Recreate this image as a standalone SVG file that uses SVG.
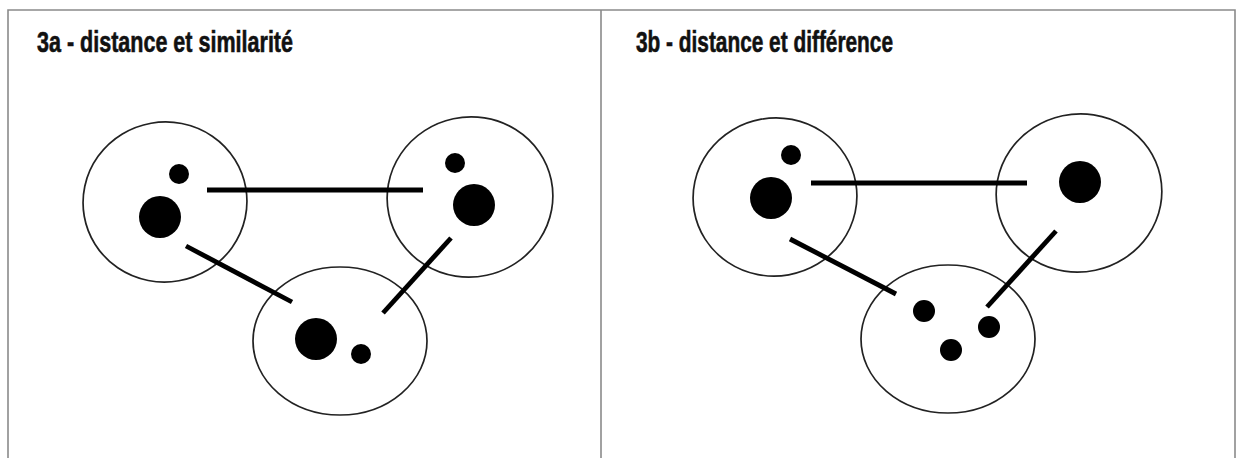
<svg xmlns="http://www.w3.org/2000/svg" width="1239" height="458" viewBox="0 0 1239 458">
<style>
.frame{stroke:#8a8a8a;stroke-width:1.6;fill:none}
.title{font-family:"Liberation Sans",Arial,sans-serif;font-weight:bold;font-size:29px;fill:#111;stroke:#111;stroke-width:0.6}
.cl{fill:#fff;stroke:#222;stroke-width:1.7}
.dot{fill:#000}
.link{stroke:#000;stroke-width:4.8;stroke-linecap:butt}
</style>
<rect width="1239" height="458" fill="#fff"/>
<g id="frame">
<path class="frame" d="M8,458 V10 H1235 V458 M601,10 V458"/>
</g>
<text class="title" x="37" y="52" textLength="256" lengthAdjust="spacingAndGlyphs">3a - distance et similarité</text>
<text class="title" x="636" y="52" textLength="257" lengthAdjust="spacingAndGlyphs">3b - distance et différence</text>
<g id="a-cluster1"><ellipse class="cl" cx="165" cy="202" rx="82" ry="80" transform="rotate(-10 165 202)"/><circle class="dot" cx="179" cy="174" r="10"/><circle class="dot" cx="160" cy="217" r="21"/></g>
<g id="a-cluster2"><ellipse class="cl" cx="470" cy="197" rx="83" ry="80" transform="rotate(-12 470 197)"/><circle class="dot" cx="455" cy="163" r="10"/><circle class="dot" cx="474" cy="205" r="21"/></g>
<g id="a-cluster3"><ellipse class="cl" cx="340" cy="341" rx="87" ry="74"/><circle class="dot" cx="316" cy="339" r="21"/><circle class="dot" cx="361" cy="354" r="10"/></g>
<g id="b-cluster1"><ellipse class="cl" cx="775" cy="197" rx="82" ry="79" transform="rotate(-10 775 197)"/><circle class="dot" cx="791" cy="155" r="10"/><circle class="dot" cx="771" cy="198" r="21"/></g>
<g id="b-cluster2"><ellipse class="cl" cx="1079" cy="193" rx="83" ry="79" transform="rotate(-12 1079 193)"/><circle class="dot" cx="1080" cy="182" r="21"/></g>
<g id="b-cluster3"><ellipse class="cl" cx="948" cy="339" rx="87" ry="74"/><circle class="dot" cx="924" cy="311" r="11"/><circle class="dot" cx="989" cy="327" r="11"/><circle class="dot" cx="951" cy="350" r="11"/></g>
<g id="connectors">
<line class="link" x1="207" y1="190" x2="423" y2="190"/>
<line class="link" x1="186" y1="246" x2="292" y2="302"/>
<line class="link" x1="451" y1="238" x2="383" y2="313"/>
<line class="link" x1="811" y1="183" x2="1027" y2="183"/>
<line class="link" x1="790" y1="239" x2="896" y2="294"/>
<line class="link" x1="1056" y1="231" x2="987" y2="307"/>
</g>
</svg>
